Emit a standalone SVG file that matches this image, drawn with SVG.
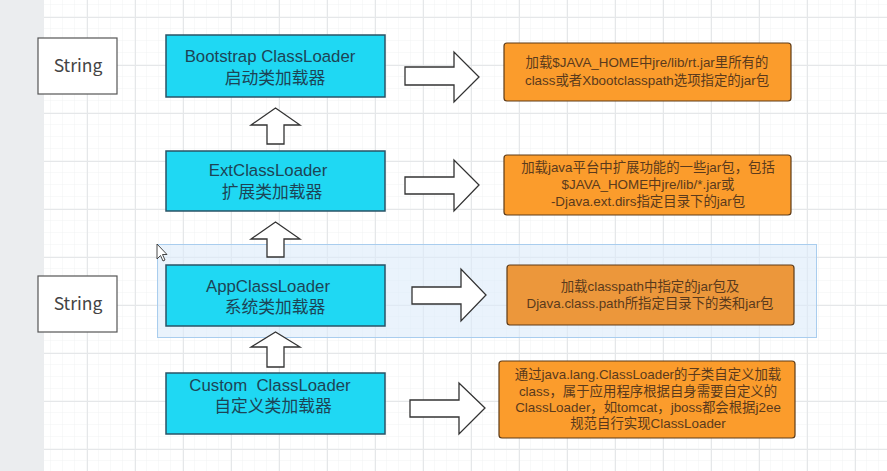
<svg xmlns="http://www.w3.org/2000/svg" width="887" height="471" viewBox="0 0 887 471">
<defs>
<pattern id="minor" x="3" y="5" width="12" height="12" patternUnits="userSpaceOnUse">
<path d="M12 0V12M0 12H12" fill="none" stroke="#f1f2f3" stroke-width="1"/>
</pattern>
<pattern id="major" x="39" y="17" width="48" height="48" patternUnits="userSpaceOnUse">
<path d="M0.5 0V48M0 0.5H48" fill="none" stroke="#e5e7e9" stroke-width="1"/>
</pattern>
</defs>
<style>
.loader{fill:#1fd8f3;stroke:#2a5366;stroke-width:1.5}
.desc{fill:#fb9c2c;stroke:#5e3b17;stroke-width:1.2}
.str{fill:#ffffff;stroke:#555555;stroke-width:1.2}
.arrow{fill:#ffffff;stroke:#333333;stroke-width:1.3;stroke-linejoin:miter}
.t1{font-family:"Liberation Sans","Noto Sans CJK SC",sans-serif;font-size:16.8px;fill:#1d4456;text-anchor:middle}
.t2{font-family:"Liberation Sans","Noto Sans CJK SC",sans-serif;font-size:13.4px;fill:#5a3a1c;text-anchor:middle}
.ts{font-family:"Noto Sans CJK SC","Open Sans",sans-serif;font-size:17.5px;fill:#444444;text-anchor:middle}
</style>
<rect width="887" height="471" fill="#ffffff"/>
<rect x="44" width="843" height="471" fill="url(#minor)"/>
<rect x="44" width="843" height="471" fill="url(#major)"/>
<rect width="44" height="471" fill="#ebedef"/>

<g id="selection">
<rect x="157.5" y="244.5" width="659" height="93" fill="#dcebfa" fill-opacity="0.6" stroke="#a9cdee" stroke-width="1"/>
</g>

<g id="string1">
<rect class="str" x="38" y="38" width="79" height="56"/>
<text class="ts" x="78" y="72">String</text>
</g>
<g id="string2">
<rect class="str" x="38" y="276" width="79" height="56"/>
<text class="ts" x="78" y="310">String</text>
</g>

<g id="bootstrap">
<rect class="loader" x="166" y="35" width="219" height="62"/>
<text class="t1" x="270" y="62">Bootstrap ClassLoader</text>
<text class="t1" x="275" y="84">启动类加载器</text>
</g>
<g id="ext">
<rect class="loader" x="166" y="151" width="219" height="60"/>
<text class="t1" x="268" y="176">ExtClassLoader</text>
<text class="t1" x="272" y="198">扩展类加载器</text>
</g>
<g id="app">
<rect class="loader" x="166" y="265" width="219" height="61"/>
<text class="t1" x="268" y="292">AppClassLoader</text>
<text class="t1" x="275" y="313">系统类加载器</text>
</g>
<g id="custom">
<rect class="loader" x="166" y="373" width="219" height="61"/>
<text class="t1" x="270" y="391" xml:space="preserve">Custom  ClassLoader</text>
<text class="t1" x="273" y="412">自定义类加载器</text>
</g>

<g id="desc1">
<rect class="desc" x="504" y="43" width="287" height="58" rx="3"/>
<text class="t2" x="647" y="67">加载$JAVA_HOME中jre/lib/rt.jar里所有的</text>
<text class="t2" x="647" y="85">class或者Xbootclasspath选项指定的jar包</text>
</g>
<g id="desc2">
<rect class="desc" x="504" y="155" width="287" height="60" rx="3"/>
<text class="t2" x="648" y="172">加载java平台中扩展功能的一些jar包，包括</text>
<text class="t2" x="648" y="189">$JAVA_HOME中jre/lib/*.jar或</text>
<text class="t2" x="648" y="206">-Djava.ext.dirs指定目录下的jar包</text>
</g>
<g id="desc3">
<rect class="desc" x="507" y="265" width="287" height="60" rx="3" style="fill:#ec973b"/>
<text class="t2" x="650" y="291">加载classpath中指定的jar包及</text>
<text class="t2" x="650" y="308">Djava.class.path所指定目录下的类和jar包</text>
</g>
<g id="desc4">
<rect class="desc" x="499" y="361" width="296" height="77" rx="3"/>
<text class="t2" x="648" y="379">通过java.lang.ClassLoader的子类自定义加载</text>
<text class="t2" x="648" y="396">class，属于应用程序根据自身需要自定义的</text>
<text class="t2" x="648" y="412">ClassLoader，如tomcat，jboss都会根据j2ee</text>
<text class="t2" x="648" y="428">规范自行实现ClassLoader</text>
</g>

<g id="connectors">
<polygon class="arrow" points="405,67 454,67 454,52 479,77 454,102 454,85 405,85"/>
<polygon class="arrow" points="405,177 454,177 454,160 479,185 454,211 454,194 405,194"/>
<polygon class="arrow" points="412,287 461,287 461,269 486,295 461,321 461,304 412,304"/>
<polygon class="arrow" points="410,400 459,400 459,383 485,408 459,434 459,417 410,417"/>
<polygon class="arrow" points="267,144 267,125 251,125 275.5,108 300,125 284,125 284,144"/>
<polygon class="arrow" points="267,257 267,239 251,239 275.5,222 300,239 284,239 284,257"/>
<polygon class="arrow" points="267,367 267,347 251,347 275.5,332 300,347 284,347 284,367"/>
</g>

<g id="cursor">
<polygon points="157,244 157,259 160.5,255.5 163,261 165,260 162.5,254.5 167,254.5" fill="#ffffff" stroke="#333333" stroke-width="0.9" stroke-linejoin="round"/>
</g>
</svg>
